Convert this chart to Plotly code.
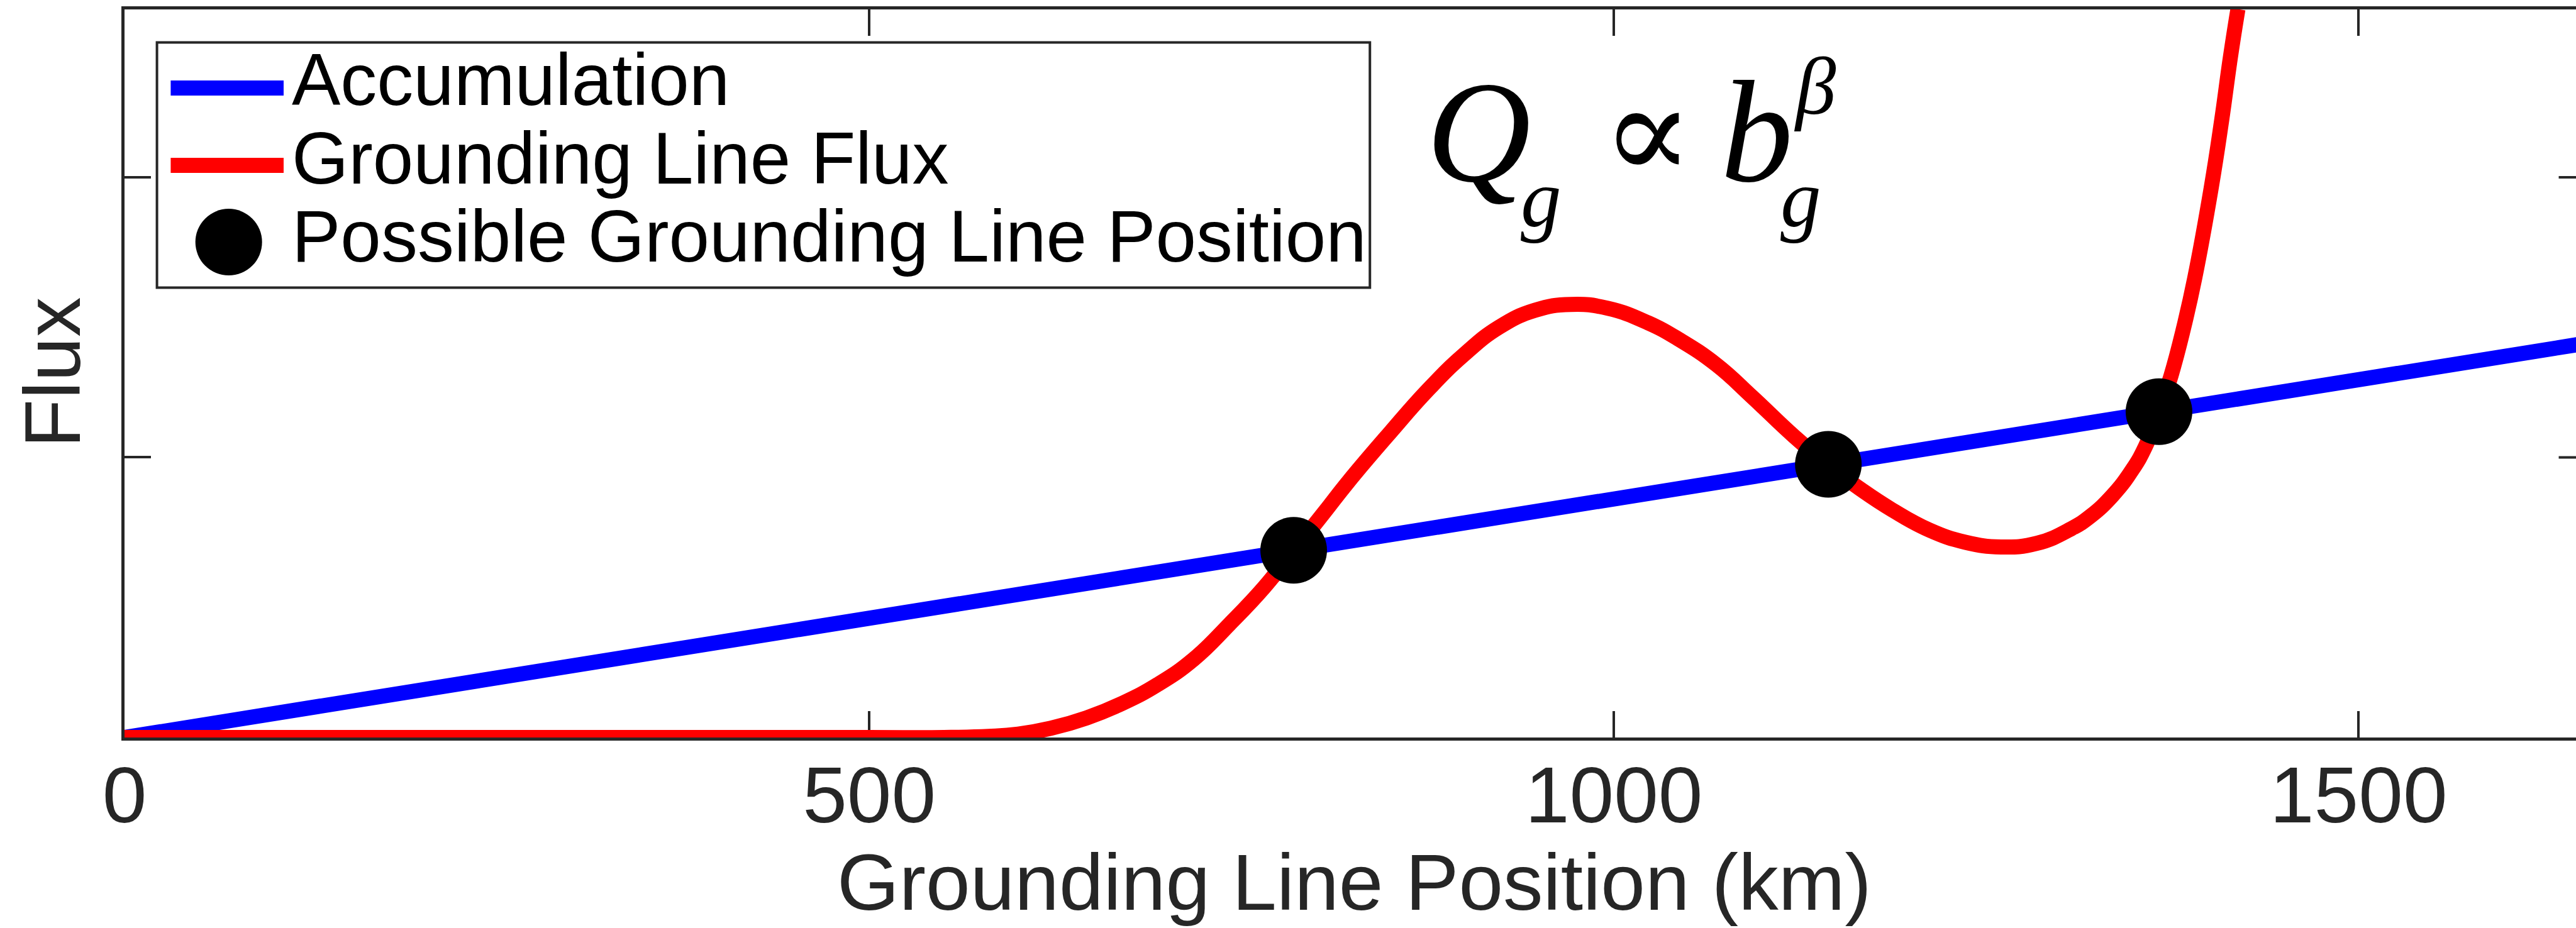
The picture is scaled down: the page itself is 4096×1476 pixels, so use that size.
import plotly.graph_objects as go

# ---- data -------------------------------------------------------------
# accumulation (straight line through the origin)
acc_x = [0, 1650]
acc_y = [0, 1.405]

# grounding-line flux curve
flux_x = [0, 100, 200, 300, 400, 500, 550, 580, 600, 622, 646, 670, 694, 718,
          742, 765, 785, 805, 822, 850, 875, 899, 923, 947, 971, 996, 1023,
          1044, 1069, 1093, 1121, 1144, 1166, 1187, 1212, 1236, 1260, 1284,
          1307, 1320, 1335, 1348, 1357, 1366, 1374, 1382, 1390, 1401, 1408,
          1414, 1419]
flux_y = [0, 0, 0, 0, 0, 0, 0.0, 0.004, 0.012, 0.033, 0.07, 0.122, 0.19, 0.28,
          0.405, 0.535, 0.667, 0.80, 0.915, 1.09, 1.24, 1.365, 1.465, 1.525,
          1.546, 1.532, 1.48, 1.42, 1.33, 1.215, 1.075, 0.972, 0.885, 0.812,
          0.74, 0.697, 0.68, 0.693, 0.745, 0.79, 0.865, 0.955, 1.04, 1.161,
          1.29, 1.45, 1.64, 1.96, 2.2, 2.43, 2.6]

# intersections: possible grounding line positions
gl_x = [785, 1144, 1366]
gl_y = [0.668, 0.975, 1.163]

x_ticks = [0, 500, 1000, 1500]
y_ticks = [0, 1, 2]
legend_labels = ["Accumulation", "Grounding Line Flux",
                 "Possible Grounding Line Position"]

# ---- geometry ---------------------------------------------------------
S = 0.992
W, H = 4096, 1476
L, T = 200 * S, 15 * S
B = 1182 * S
R = W
X_RANGE = [0, 1646]
Y_RANGE = [0, 2.599]
RIGHT_AXIS_KM = 1652
AXIS = "#262626"
SANS = "Liberation Sans, Arial, Helvetica, sans-serif"
SERIF = "Liberation Serif, Times New Roman, DejaVu Serif, serif"
F_AX = 127
F_LEG = 116
LW = 24
TICKLEN = 42 * S


def px(xr):
    return (xr * S - L) / (R - L)


def py(yr):
    return (B - yr * S) / (B - T)


fig = go.Figure()
fig.add_trace(go.Scatter(x=acc_x, y=acc_y, mode="lines", name=legend_labels[0],
                         line=dict(color="#0000FF", width=LW),
                         cliponaxis=False, showlegend=False))
fig.add_trace(go.Scatter(x=flux_x, y=flux_y, mode="lines", name=legend_labels[1],
                         line=dict(color="#FF0000", width=LW, shape="spline",
                                   smoothing=1.3),
                         cliponaxis=False, showlegend=False))
fig.add_trace(go.Scatter(x=gl_x, y=gl_y, mode="markers", name=legend_labels[2],
                         marker=dict(color="black", size=106, line=dict(width=0)),
                         cliponaxis=False, showlegend=False))

shapes = []
# inward ticks on the right-hand axis
km_per_px = (X_RANGE[1] - X_RANGE[0]) / (R - L)
for yv in y_ticks[1:]:
    shapes.append(dict(type="line", xref="x", yref="y",
                       x0=RIGHT_AXIS_KM - TICKLEN * km_per_px, x1=RIGHT_AXIS_KM,
                       y0=yv, y1=yv, line=dict(color=AXIS, width=4)))

# legend box
shapes.append(dict(type="rect", xref="paper", yref="paper",
                   x0=px(252), x1=px(2196), y0=py(68), y1=py(461),
                   line=dict(color=AXIS, width=4), fillcolor="white",
                   layer="above"))
# legend line samples
for yr, col in [(141, "#0000FF"), (265, "#FF0000")]:
    shapes.append(dict(type="line", xref="paper", yref="paper",
                       x0=px(274), x1=px(455), y0=py(yr), y1=py(yr),
                       line=dict(color=col, width=LW)))
# legend marker sample
shapes.append(dict(type="circle", xref="paper", yref="paper",
                   xsizemode="pixel", ysizemode="pixel",
                   xanchor=px(367), yanchor=py(388),
                   x0=-53, x1=53, y0=-53, y1=53,
                   fillcolor="black", line=dict(width=0)))

ann = []
for label, yr in zip(legend_labels, [128, 253.5, 379]):
    ann.append(dict(text=label, xref="paper", yref="paper", x=px(466), y=py(yr),
                    xanchor="left", yanchor="middle", showarrow=False,
                    font=dict(family=SANS, size=F_LEG, color="black")))

# axis titles
ann.append(dict(text="Grounding Line Position (km)", xref="paper", yref="paper",
                x=px(2171), y=py(1414), xanchor="center", yanchor="middle",
                showarrow=False, font=dict(family=SANS, size=F_AX, color=AXIS)))
ann.append(dict(text="Flux", xref="paper", yref="paper", x=px(84), y=py(597),
                xanchor="center", yanchor="middle", textangle=-90,
                showarrow=False, font=dict(family=SANS, size=F_AX, color=AXIS)))

# formula  Q_g ∝ b_g^β
F_BIG, F_SMALL = 230, 129


def formula(text, xr, yc_out, size, anchor="left"):
    ann.append(dict(text=text, xref="paper", yref="paper",
                    x=px(xr), y=(B - yc_out) / (B - T),
                    xanchor=anchor, yanchor="middle", showarrow=False,
                    font=dict(family=SERIF, size=size, color="black")))


formula("<i>Q</i>", 2284, 210, F_BIG)
formula("<i>g</i>", 2436, 315, F_SMALL)
formula("\u221d", 2641, 212, 215, anchor="center")
formula("<i>b</i>", 2756, 210, F_BIG)
formula("<i>\u03b2</i>", 2873, 137, F_SMALL)
formula("<i>g</i>", 2852, 315, F_SMALL)

fig.update_layout(
    width=W, height=H,
    margin=dict(l=L, r=W - R, t=T, b=H - B, autoexpand=False),
    paper_bgcolor="white", plot_bgcolor="white",
    showlegend=False,
    shapes=shapes, annotations=ann,
    xaxis=dict(range=X_RANGE, tickvals=x_ticks, ticks="inside", ticklen=TICKLEN,
               tickwidth=4, tickcolor=AXIS, showline=True, linecolor=AXIS,
               linewidth=5, mirror="ticks", showgrid=False, zeroline=False,
               layer="below traces", ticklabelstandoff=-22,
               tickfont=dict(family=SANS, size=F_AX, color=AXIS)),
    yaxis=dict(range=Y_RANGE, tickvals=y_ticks, ticks="inside", ticklen=TICKLEN,
               tickwidth=4, tickcolor=AXIS, showline=True, linecolor=AXIS,
               linewidth=5, showgrid=False, zeroline=False, showticklabels=False,
               layer="below traces"),
)

fig.write_html("out.html")
